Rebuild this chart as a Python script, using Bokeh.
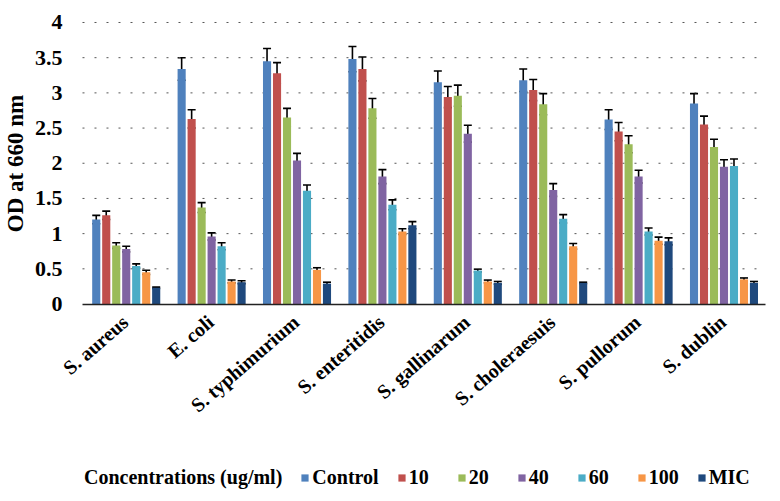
import math
from bokeh.plotting import figure
from bokeh.models import (ColumnDataSource, FixedTicker, Whisker, TeeHead,
                          Legend, LegendItem, Range1d)
from bokeh.transform import dodge
from bokeh.embed import file_html
from bokeh.resources import INLINE

categories = ["S. aureus", "E. coli", "S. typhimurium", "S. enteritidis",
              "S. gallinarum", "S. choleraesuis", "S. pullorum", "S. dublin"]
series_names = ["Control", "10", "20", "40", "60", "100", "MIC"]
series_colors = ["#4F81BD", "#C0504D", "#9BBB59", "#8064A2", "#4BACC6", "#F79646", "#1F497D"]

control = [1.20, 3.34, 3.45, 3.48, 3.15, 3.18, 2.62, 2.85]
c10 = [1.26, 2.63, 3.28, 3.34, 2.94, 3.04, 2.45, 2.55]
c20 = [0.83, 1.37, 2.65, 2.78, 2.96, 2.84, 2.27, 2.23]
c40 = [0.78, 0.96, 2.04, 1.81, 2.42, 1.62, 1.81, 1.95]
c60 = [0.54, 0.82, 1.61, 1.41, 0.475, 1.21, 1.03, 1.96]
c100 = [0.45, 0.32, 0.485, 1.03, 0.32, 0.82, 0.90, 0.35]
mic = [0.23, 0.31, 0.29, 1.12, 0.30, 0.30, 0.89, 0.30]

err_control = [0.06, 0.16, 0.18, 0.18, 0.16, 0.16, 0.14, 0.14]
err_c10 = [0.06, 0.13, 0.15, 0.17, 0.15, 0.15, 0.13, 0.12]
err_c20 = [0.04, 0.07, 0.13, 0.14, 0.15, 0.15, 0.12, 0.11]
err_c40 = [0.04, 0.05, 0.10, 0.10, 0.12, 0.09, 0.09, 0.10]
err_c60 = [0.03, 0.05, 0.08, 0.07, 0.02, 0.06, 0.05, 0.10]
err_c100 = [0.03, 0.02, 0.03, 0.04, 0.02, 0.04, 0.05, 0.02]
err_mic = [0.01, 0.02, 0.02, 0.05, 0.02, 0.01, 0.05, 0.02]

ytick_vals = [0, 0.5, 1, 1.5, 2, 2.5, 3, 3.5, 4]
ytick_labels = ["0", "0.5", "1", "1.5", "2", "2.5", "3", "3.5", "4"]
legend_title = "Concentrations (ug/ml)"
y_label = "OD at 660 nm"

values = [control, c10, c20, c40, c60, c100, mic]
errors = [err_control, err_c10, err_c20, err_c40, err_c60, err_c100, err_mic]

FONT = "Liberation Serif"
N = len(categories)
centers = [i + 0.5 for i in range(N)]

# The frame covers the whole figure so that axes (fixed at 0) and legend are never clipped.
X_LEFT, X_RIGHT = -0.9602, 8.08
Y_BOTTOM, Y_TOP = -2.7495, 4.3126

p = figure(x_range=Range1d(X_LEFT, X_RIGHT), y_range=Range1d(Y_BOTTOM, Y_TOP),
           width=772, height=497, output_backend="svg", toolbar_location=None,
           min_border_left=0, min_border_right=0, min_border_top=0, min_border_bottom=0)
p.outline_line_color = None
p.background_fill_color = "white"

# dotted horizontal gridlines across the category span only
grid_src = ColumnDataSource(dict(y=ytick_vals[1:], x0=[0] * (len(ytick_vals) - 1),
                                 x1=[N] * (len(ytick_vals) - 1)))
p.segment(x0="x0", x1="x1", y0="y", y1="y", source=grid_src, line_color="#555555",
          line_dash="2 10", line_width=1)

data = {"xc": centers}
for i, (v, e) in enumerate(zip(values, errors)):
    data[f"v{i}"] = v
    data[f"lo{i}"] = [a - b for a, b in zip(v, e)]
    data[f"hi{i}"] = [a + b for a, b in zip(v, e)]
src = ColumnDataSource(data)

pitch = 0.117
bw = 0.095
dummy = p.vbar(x=[centers[0]], top=[0], width=0.01, fill_alpha=0, line_alpha=0)
items = [LegendItem(label=legend_title, renderers=[dummy])]
for i, (name, col) in enumerate(zip(series_names, series_colors)):
    off = (i - 3) * pitch + 0.012
    r = p.vbar(x=dodge("xc", off), top=f"v{i}", width=bw, source=src,
               fill_color=col, line_color=None)
    items.append(LegendItem(label=name, renderers=[r]))
    w = Whisker(base=dodge("xc", off), upper=f"hi{i}", lower=f"lo{i}",
                source=src, line_color="black", line_width=1.6,
                upper_head=TeeHead(size=8, line_color="black", line_width=1.6),
                lower_head=TeeHead(size=8, line_color="black", line_width=1.6))
    p.add_layout(w)

# y axis, fixed at the left edge of the first category
p.yaxis.fixed_location = 0
p.yaxis.bounds = (0, 4)
p.yaxis.ticker = FixedTicker(ticks=ytick_vals)
p.yaxis.major_label_overrides = {v: l for v, l in zip(ytick_vals, ytick_labels)}
p.yaxis.axis_line_color = None
p.yaxis.major_tick_line_color = None
p.yaxis.minor_tick_line_color = None
p.yaxis.major_label_text_font = FONT
p.yaxis.major_label_text_font_style = "bold"
p.yaxis.major_label_text_font_size = "22px"
p.yaxis.major_label_text_color = "black"
p.yaxis.major_label_standoff = 14
p.yaxis.axis_label = y_label
p.yaxis.axis_label_text_font = FONT
p.yaxis.axis_label_text_font_style = "bold"
p.yaxis.axis_label_text_font_size = "23px"
p.yaxis.axis_label_text_color = "black"
p.yaxis.axis_label_standoff = 4

# category axis, fixed at y = 0
p.xaxis.fixed_location = 0
p.xaxis.bounds = (0, N)
p.xaxis.ticker = FixedTicker(ticks=centers)
p.xaxis.major_label_overrides = {c: name for c, name in zip(centers, categories)}
p.xaxis.axis_line_color = "#222222"
p.xaxis.axis_line_width = 1.5
p.xaxis.major_tick_line_color = None
p.xaxis.minor_tick_line_color = None
p.xaxis.major_label_orientation = math.radians(41)
p.xaxis.major_label_text_font = FONT
p.xaxis.major_label_text_font_style = "bold"
p.xaxis.major_label_text_font_size = "20px"
p.xaxis.major_label_text_color = "black"
p.xaxis.major_label_standoff = 9

p.xgrid.grid_line_color = None
p.ygrid.grid_line_color = None

legend = Legend(items=items, orientation="horizontal", location=(72, 8), nrows=1,
                glyph_width=9, glyph_height=9, label_standoff=3, spacing=18, label_width=30,
                padding=0, margin=0, border_line_color=None, background_fill_alpha=0,
                label_text_font=FONT, label_text_font_style="bold",
                label_text_font_size="20px", label_text_color="black")
p.add_layout(legend)

open("out.html", "w").write(file_html(p, INLINE))
